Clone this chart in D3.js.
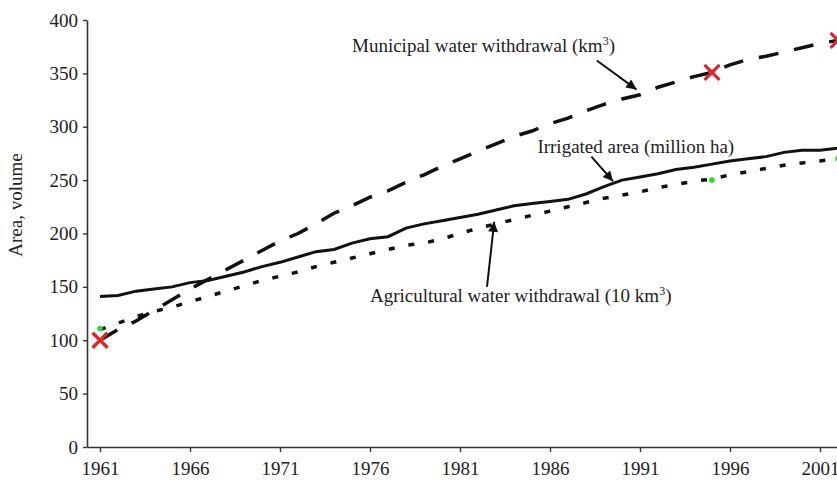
<!DOCTYPE html>
<html>
<head>
<meta charset="utf-8">
<script src="https://cdn.jsdelivr.net/npm/d3@7"></script>
<style>
  body { margin: 0; background: #fff; }
  svg { display: block; font-family: "Liberation Serif", "Times New Roman", serif; }
</style>
</head>
<body>
<div id="chart"></div>
<script>
// Jahre 1961-2002
const years = d3.range(1961, 2003);

// Bewässerte Fläche (Mio. ha)
const irrigated = [141, 142, 146, 148, 150, 154, 156, 160, 164, 169,
  173, 178, 183, 185, 191, 195, 197, 205, 209, 212,
  215, 218, 222, 226, 228, 230, 232, 237, 244, 250,
  253, 256, 260, 262, 265, 268, 270, 272, 276, 278,
  278, 280];

// Kommunale Wasserentnahme (km3)
const municipal = [100, 110, 118, 128, 138, 148, 157, 166, 175, 184,
  193, 200, 209, 219, 226, 234, 240, 248, 255, 263,
  270, 277, 284, 291, 296, 303, 308, 315, 321, 326,
  330, 337, 342, 347, 351, 358, 363, 366, 370, 374,
  378, 381];

// Landwirtschaftliche Wasserentnahme (10 km3)
const agricultural = [110, 116, 122, 127, 131, 136, 141, 146, 151, 156,
  160, 164, 169, 173, 177, 181, 185, 189, 191, 195,
  200, 205, 209, 213, 217, 221, 225, 229, 233, 236,
  239, 243, 246, 249, 251, 255, 258, 261, 264, 266,
  268, 270];

// Markierungen
const crossPoints = [{ year: 1961, value: 100 }, { year: 1995, value: 351 }, { year: 2002, value: 381 }];
const greenPoints = [{ year: 1961, value: 111 }, { year: 1995, value: 250 }, { year: 2002, value: 270 }];

const xTicks = [1961, 1966, 1971, 1976, 1981, 1986, 1991, 1996, 2001];
const yTicks = [0, 50, 100, 150, 200, 250, 300, 350, 400];

// Beschriftungen mit Pfeilen (Datenkoordinaten)
const labels = [
  { text: "Municipal water withdrawal (km", sup: "3", close: ")", year: 1975.0, value: 370,
    from: [1988.6, 362], to: [1990.8, 335] },
  { text: "Irrigated area (million ha)", sup: "", close: "", year: 1985.3, value: 275.5,
    from: [1988.3, 272], to: [1989.5, 249] },
  { text: "Agricultural water withdrawal (10 km", sup: "3", close: ")", year: 1976.0, value: 136,
    from: [1982.5, 150], to: [1982.9, 211] }
];

const width = 837, height = 480;

const svg = d3.select("#chart").append("svg")
  .attr("width", width)
  .attr("height", height);

const x = d3.scaleLinear().domain([1961, 2001]).range([100, 820]);
const y = d3.scaleLinear().domain([0, 400]).range([447, 20]);

// Pfeilspitze
svg.append("defs").append("marker")
  .attr("id", "arrow")
  .attr("viewBox", "0 0 10 10")
  .attr("refX", 10)
  .attr("refY", 5)
  .attr("markerWidth", 15)
  .attr("markerHeight", 10)
  .attr("markerUnits", "userSpaceOnUse")
  .attr("orient", "auto")
  .append("path")
  .attr("d", "M0,0 L10,5 L0,10 Z")
  .attr("fill", "#111");

// X-Achse (verlängert bis zum Rand)
const xAxisScale = x.copy().domain([x.invert(87), x.invert(900)]).range([87, 900]);
const xAxis = svg.append("g")
  .attr("transform", `translate(0,${y(0)})`)
  .call(d3.axisBottom(xAxisScale)
    .tickValues(xTicks)
    .tickFormat(d3.format("d"))
    .tickSize(5)
    .tickSizeOuter(0)
    .tickPadding(10));

// Y-Achse
const yAxis = svg.append("g")
  .attr("transform", "translate(87,0)")
  .call(d3.axisLeft(y)
    .tickValues(yTicks)
    .tickSize(4)
    .tickSizeOuter(0)
    .tickPadding(5));

[xAxis, yAxis].forEach(g => {
  g.select(".domain").attr("stroke", "#333").attr("stroke-width", 1.6);
  g.selectAll(".tick line").attr("stroke", "#333").attr("stroke-width", 1.4);
  g.selectAll(".tick text")
    .attr("fill", "#222")
    .style("font-family", "Liberation Serif, serif")
    .style("font-size", "19px");
});

// Achsentitel
svg.append("text")
  .attr("transform", `translate(22,${205}) rotate(-90)`)
  .attr("text-anchor", "middle")
  .attr("fill", "#222")
  .style("font-size", "19px")
  .text("Area, volume");

// Linien
const line = d3.line()
  .x((d, i) => x(years[i]))
  .y(d => y(d));

svg.append("path")
  .datum(irrigated)
  .attr("d", line)
  .attr("fill", "none")
  .attr("stroke", "#111")
  .attr("stroke-width", 3);

svg.append("path")
  .datum(municipal)
  .attr("d", line)
  .attr("fill", "none")
  .attr("stroke", "#111")
  .attr("stroke-width", 3.5)
  .attr("stroke-dasharray", "20,16");

svg.append("path")
  .datum(agricultural)
  .attr("d", line)
  .attr("fill", "none")
  .attr("stroke", "#111")
  .attr("stroke-width", 3.5)
  .attr("stroke-dasharray", "6,14");

// Grüne Punkte
svg.selectAll(".green")
  .data(greenPoints)
  .enter()
  .append("circle")
  .attr("class", "green")
  .attr("cx", d => x(d.year))
  .attr("cy", d => y(d.value))
  .attr("r", 2.8)
  .attr("fill", "#3ad23a");

// Rote Kreuze
const s = 7.5;
svg.selectAll(".cross")
  .data(crossPoints)
  .enter()
  .append("path")
  .attr("class", "cross")
  .attr("d", d => {
    const cx = x(d.year), cy = y(d.value);
    return `M${cx - s},${cy - s}L${cx + s},${cy + s}M${cx - s},${cy + s}L${cx + s},${cy - s}`;
  })
  .attr("stroke", "#e3242b")
  .attr("stroke-width", 3.2)
  .attr("fill", "none");

// Beschriftungen und Pfeile
labels.forEach(l => {
  const t = svg.append("text")
    .attr("x", x(l.year))
    .attr("y", y(l.value))
    .attr("fill", "#222")
    .style("font-size", "19px")
    .text(l.text);
  if (l.sup) {
    t.append("tspan")
      .attr("dy", -7)
      .style("font-size", "12px")
      .text(l.sup);
    t.append("tspan")
      .attr("dy", 7)
      .text(l.close);
  }

  svg.append("line")
    .attr("x1", x(l.from[0]))
    .attr("y1", y(l.from[1]))
    .attr("x2", x(l.to[0]))
    .attr("y2", y(l.to[1]))
    .attr("stroke", "#111")
    .attr("stroke-width", 2)
    .attr("marker-end", "url(#arrow)");
});
</script>
</body>
</html>
